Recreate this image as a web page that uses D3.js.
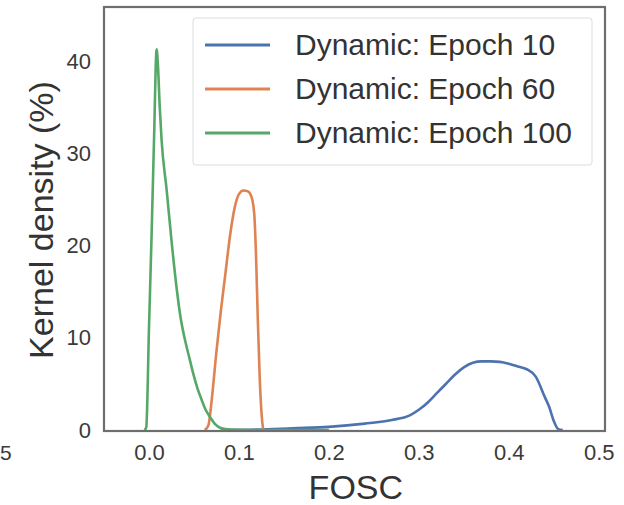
<!DOCTYPE html>
<html>
<head>
<meta charset="utf-8">
<script src="https://cdn.jsdelivr.net/npm/d3@7"></script>
<style>
  body { margin: 0; background: #fff; }
  text { font-family: "Liberation Sans", Arial, sans-serif; }
</style>
</head>
<body>
<div id="chart"></div>
<script>
// Kernel density curves
const seriesNames = ["Dynamic: Epoch 10", "Dynamic: Epoch 60", "Dynamic: Epoch 100"];
const seriesColors = ["#4c72b0", "#dd8452", "#55a868"];

const foscEpoch10 = [0.08, 0.12, 0.16, 0.2, 0.24, 0.27, 0.29, 0.30, 0.31, 0.32, 0.33, 0.34, 0.35, 0.36, 0.37, 0.38, 0.39, 0.40, 0.41, 0.42, 0.43, 0.44, 0.445, 0.45, 0.455, 0.46];
const densEpoch10 = [0, 0.05, 0.2, 0.35, 0.7, 1.1, 1.6, 2.2, 3.0, 4.0, 5.0, 6.0, 6.8, 7.3, 7.45, 7.45, 7.4, 7.2, 6.9, 6.6, 5.8, 3.6, 2.5, 1.0, 0.1, 0];

const foscEpoch60 = [0.062, 0.066, 0.07, 0.075, 0.08, 0.085, 0.09, 0.095, 0.1, 0.105, 0.11, 0.114, 0.117, 0.119, 0.121, 0.123, 0.125, 0.127];
const densEpoch60 = [0, 0.5, 3.5, 8.5, 13, 17, 21, 24, 25.6, 26, 25.9, 25.3, 23.5, 19, 12, 6, 2, 0];

const foscEpoch100 = [-0.005, -0.003, 0, 0.003, 0.006, 0.0075, 0.0085, 0.01, 0.012, 0.014, 0.0197, 0.025, 0.031, 0.035, 0.04, 0.045, 0.049, 0.054, 0.0585, 0.063, 0.068, 0.073, 0.079, 0.085, 0.1, 0.12, 0.15, 0.2];
const densEpoch100 = [0, 0.3, 11, 21.5, 33, 39.5, 41.3, 39.5, 35, 31.5, 26, 20.6, 15.2, 12.3, 9.8, 7.8, 6.2, 4.5, 3.3, 2.2, 1.4, 0.7, 0.25, 0.1, 0.03, 0.01, 0, 0];

const xTicks = [0.0, 0.1, 0.2, 0.3, 0.4, 0.5];
const yTicks = [0, 10, 20, 30, 40];

const seriesX = [foscEpoch10, foscEpoch60, foscEpoch100];
const seriesY = [densEpoch10, densEpoch60, densEpoch100];

const W = 624, H = 505;
const margin = { top: 7, right: 19, bottom: 74, left: 104 };
const width = W - margin.left - margin.right;
const height = H - margin.top - margin.bottom;

const svg = d3.select("#chart")
  .append("svg")
  .attr("width", W)
  .attr("height", H);

const g = svg.append("g")
  .attr("transform", `translate(${margin.left},${margin.top})`);

const x = d3.scaleLinear().domain([-0.05, 0.507]).range([0, width]);
const y = d3.scaleLinear().domain([-0.1, 45.9]).range([height, 0]);

g.append("clipPath").attr("id", "plotclip")
  .append("rect").attr("width", width).attr("height", height);

// curves
const line = d3.line()
  .x(d => x(d[0]))
  .y(d => y(d[1]))
  .curve(d3.curveMonotoneX);

seriesX.forEach((xs, i) => {
  const pts = xs.map((v, j) => [v, seriesY[i][j]]);
  g.append("path")
    .datum(pts)
    .attr("clip-path", "url(#plotclip)")
    .attr("fill", "none")
    .attr("stroke", seriesColors[i])
    .attr("stroke-width", 2.6)
    .attr("stroke-linejoin", "round")
    .attr("d", line);
});

// axes, no tick marks (seaborn white style)
const xAxis = g.append("g")
  .attr("transform", `translate(0,${height})`)
  .call(d3.axisBottom(x).tickValues(xTicks).tickFormat(d3.format(".1f")).tickSize(0).tickPadding(13));
const yAxis = g.append("g")
  .call(d3.axisLeft(y).tickValues(yTicks).tickFormat(d3.format("d")).tickSize(0).tickPadding(13));

[xAxis, yAxis].forEach(a => {
  a.select(".domain").remove();
  a.selectAll("text")
    .style("font-family", "'Liberation Sans', Arial, sans-serif")
    .style("font-size", "22px")
    .attr("fill", "#3a3a3a");
});

// frame
g.append("rect")
  .attr("width", width)
  .attr("height", height)
  .attr("fill", "none")
  .attr("stroke", "#6e6e6e")
  .attr("stroke-width", 2.2);

// axis titles
svg.append("text")
  .attr("x", margin.left + x(0.23))
  .attr("y", 499)
  .attr("text-anchor", "middle")
  .attr("font-size", 34)
  .attr("fill", "#333")
  .text("FOSC");

svg.append("text")
  .attr("transform", `translate(53,${margin.top + height / 2 + 1}) rotate(-90)`)
  .attr("text-anchor", "middle")
  .attr("font-size", 34)
  .attr("fill", "#333")
  .text("Kernel density (%)");

// leftover tick label of the neighbouring panel
svg.append("text")
  .attr("x", 0)
  .attr("y", 460)
  .attr("font-size", 21)
  .attr("fill", "#3a3a3a")
  .text("5");

// legend
const legend = svg.append("g").attr("transform", "translate(193,18)");
legend.append("rect")
  .attr("width", 399)
  .attr("height", 147)
  .attr("rx", 3)
  .attr("fill", "#fff")
  .attr("fill-opacity", 0.8)
  .attr("stroke", "#dcdcdc")
  .attr("stroke-width", 1);

seriesNames.forEach((name, i) => {
  const row = legend.append("g").attr("transform", `translate(0,${27 + i * 44})`);
  row.append("line")
    .attr("x1", 12).attr("x2", 77)
    .attr("stroke", seriesColors[i])
    .attr("stroke-width", 3);
  row.append("text")
    .attr("x", 102)
    .attr("y", 10)
    .attr("font-size", 30)
    .attr("fill", "#333")
    .text(name);
});
</script>
</body>
</html>
